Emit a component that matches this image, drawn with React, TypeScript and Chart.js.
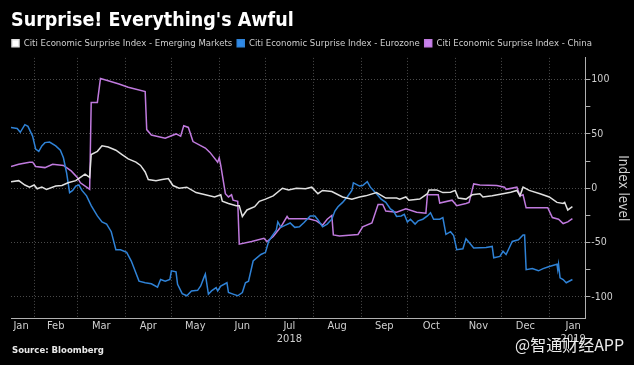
import React, { useEffect, useRef } from 'react';
import { Chart, registerables } from 'chart.js';

Chart.register(...registerables);

// ---------- DATA ----------
const TITLE = "Surprise! Everything's Awful";
const SOURCE = 'Source: Bloomberg';
const WATERMARK = '@智通财经APP';
const AXIS_TITLE = 'Index level';
const SERIES_NAMES = [
  'Citi Economic Surprise Index - Emerging Markets',
  'Citi Economic Surprise Index - Eurozone',
  'Citi Economic Surprise Index - China',
];

// x values are days since 1 Jan 2018
const emDays = [16, 21, 25, 28, 31, 33, 36, 39, 45, 49, 53, 58, 61, 64, 67, 68, 72, 75, 79, 84, 88, 92, 97, 100, 103, 105, 110, 114, 118, 121, 125, 130, 136, 142, 148, 152, 153, 157, 162, 164, 166, 169, 174, 177, 181, 186, 192, 196, 201, 207, 211, 215, 218, 224, 231, 237, 242, 246, 253, 259, 266, 268, 272, 274, 281, 286, 287, 292, 296, 301, 304, 306, 311, 315, 320, 322, 328, 335, 340, 344, 346, 348, 352, 359, 365, 370, 374, 375, 377, 380];
const emValues = [6, 7, 3, 1, 3, -0.5, 1, -1, 2, 2.5, 5, 7, 10, 13, 10, 31, 34, 39, 38, 35, 31, 27, 24, 21, 15, 8, 7, 8, 9, 2.5, 0, 1, -4, -6, -8, -6, -12, -14, -16, -16, -26, -20, -17, -12, -10, -7, 0, -1.5, 0, -0.5, 1, -5, -2, -3, -8, -10, -8, -7, -4, -9, -9, -10, -8, -11, -10, -5, -1.5, -1.5, -4, -3.6, -2, -9, -10, -6, -5, -8, -7, -5, -3.6, -2, -7, 1, -2, -5, -8, -13, -14, -13, -20, -17];

const ezDays = [16, 20, 22, 25, 27, 30, 32, 34, 36, 38, 41, 45, 48, 50, 52, 54, 56, 58, 60, 62, 65, 68, 72, 75, 78, 81, 84, 87, 91, 94, 99, 103, 107, 111, 113, 116, 119, 120, 123, 124, 127, 130, 133, 137, 139, 141, 142, 144, 146, 149, 150, 152, 156, 157, 160, 163, 166, 168, 170, 173, 178, 181, 183, 185, 188, 189, 191, 194, 197, 200, 203, 206, 210, 213, 215, 218, 221, 224, 226, 228, 231, 234, 237, 238, 242, 244, 247, 249, 253, 256, 259, 262, 264, 266, 269, 271, 273, 275, 278, 280, 283, 286, 288, 290, 294, 296, 298, 301, 303, 305, 309, 311, 314, 316, 324, 328, 329, 333, 335, 337, 339, 341, 345, 348, 349, 350, 354, 358, 361, 365, 370, 370.5, 371, 372, 374, 376, 380];
const ezValues = [56, 55, 51.5, 58.5, 57, 48, 36, 34, 39, 42, 42.5, 39, 35, 28, 14.5, -4, -2, 2, 3, -2, -7, -16, -25.5, -31, -33, -40, -56.6, -56.6, -59, -67, -85.5, -87, -88, -91, -84, -85.5, -84, -76, -77, -88.5, -97, -99, -94.5, -94, -90, -82.5, -79, -97.5, -94.5, -91.5, -94.5, -90, -87, -96, -97.5, -99, -96, -87, -85.5, -67, -61, -59, -49, -44.5, -38.5, -31, -36, -34, -32, -36, -35.5, -31.5, -25.5, -25.5, -29, -35.5, -33, -28.5, -21, -17, -13, -8, -2, 5, 2, 2.5, 6, 1, -5, -10, -13, -19, -21, -26, -25.5, -24, -31, -28.5, -33, -30, -28.5, -25.5, -22.5, -28.5, -28.5, -27, -42.5, -40, -43.6, -56.6, -55.7, -46.6, -51.5, -55, -54.5, -53.6, -64, -62.7, -58, -61, -55, -49, -47.5, -43, -43, -75, -74, -76, -74, -72, -70, -75, -70, -82.5, -84, -87, -84];

const cnDays = [16, 21, 28, 30, 32, 38, 43, 50, 55, 59, 61, 65, 67, 68, 72, 74, 79, 86, 92, 103, 104, 107, 116, 123, 126, 128, 131, 134, 142, 145, 150, 151, 152, 155, 157, 159, 160, 163, 164, 172, 180, 182, 186, 191, 195, 196, 209, 214, 218, 221, 224, 225, 229, 241, 244, 250, 254, 257, 259, 266, 272, 279, 285, 286, 293, 294, 302, 305, 311, 313, 316, 320, 331, 336, 337, 344, 346, 348, 350, 364, 367, 371, 374, 377, 380];
const cnValues = [20, 22, 24, 24, 20, 19, 22, 21, 16, 10, 5, 1, -1, 79, 79, 101, 99, 96, 93, 89, 54, 49, 46, 50, 48, 57.5, 56, 43, 37, 33, 24, 28, 21, -5, -8, -6, -11, -12, -51.5, -49, -46, -49, -44.5, -35.5, -26, -28, -28, -30, -34, -28.5, -25, -43, -44, -42.5, -35.5, -32, -15, -15, -21, -22, -19, -22, -23, -6, -6, -13.6, -11, -16, -14, -13, 4, 3, 2.5, 1, -1, 1, -7, -6, -18, -18, -27, -28.5, -32.5, -31, -28];

const X_MIN = 16;
const X_MAX = 388.4;
const Y_MIN = -120;
const Y_MAX = 120;
const monthStartDays = [31, 59, 90, 120, 151, 181, 212, 243, 273, 304, 334, 365];
const monthLabelDays = [22.5, 45, 74.5, 105, 135.5, 166, 196.5, 227.5, 258, 288.5, 319, 349.5, 380.5];
const monthLabels: string[][] = [['Jan'], ['Feb'], ['Mar'], ['Apr'], ['May'], ['Jun'], ['Jul', '2018'], ['Aug'], ['Sep'], ['Oct'], ['Nov'], ['Dec'], ['Jan', '2019']];
const yTickValues = [-100, -75, -50, -25, 0, 25, 50, 75, 100];
const yLabelStep = 50;

// ---------- STYLE ----------
const FONT = "'DejaVu Sans Condensed', 'DejaVu Sans', sans-serif";
const COLORS = ['#e0e0e0', '#2f82d6', '#c07ade'];
const BOX_COLORS = ['#ffffff', '#2f8ae8', '#c882ee'];
const GRID = '#4a4a4a';
const AXIS = '#b0b0b0';
const TEXT = '#cfcfcf';

const toPoints = (xs: number[], ys: number[]) => xs.map((x, i) => ({ x, y: ys[i] }));

const decorPlugin = {
  id: 'decor',
  beforeDraw(chart: any) {
    const { ctx, width, height } = chart;
    ctx.save();
    ctx.fillStyle = '#000';
    ctx.fillRect(0, 0, width, height);
    ctx.restore();
  },
  afterLayout(chart: any) {
    if (chart.legend) chart.legend.left = 7;
  },
  afterDraw(chart: any) {
    const { ctx, height } = chart;
    ctx.save();
    ctx.textBaseline = 'middle';
    ctx.textAlign = 'left';
    ctx.fillStyle = '#e8e8e8';
    ctx.font = `bold 9.5px ${FONT}`;
    ctx.fillText(SOURCE, 12, height - 14);
    ctx.font = `16px 'Noto Sans CJK SC', sans-serif`;
    ctx.fillStyle = 'rgba(255,255,255,0.92)';
    ctx.fillText(WATERMARK, 515, height - 20);
    ctx.restore();
  },
};

export default function App() {
  const ref = useRef<HTMLCanvasElement>(null);
  useEffect(() => {
    document.body.style.margin = '0';
    document.body.style.background = '#000';
    const labelMap = new Map<number, string[]>();
    monthLabelDays.forEach((d, i) => labelMap.set(d, monthLabels[i]));
    const startSet = new Set(monthStartDays);
    const chart = new Chart(ref.current!, {
      type: 'line',
      data: {
        datasets: [
          { label: SERIES_NAMES[0], data: toPoints(emDays, emValues), borderColor: COLORS[0], backgroundColor: BOX_COLORS[0] },
          { label: SERIES_NAMES[1], data: toPoints(ezDays, ezValues), borderColor: COLORS[1], backgroundColor: BOX_COLORS[1] },
          { label: SERIES_NAMES[2], data: toPoints(cnDays, cnValues), borderColor: COLORS[2], backgroundColor: BOX_COLORS[2] },
        ],
      },
      options: {
        animation: false,
        responsive: true,
        maintainAspectRatio: false,
        layout: { padding: { left: 11, right: 0, top: 4, bottom: 18 } },
        elements: {
          point: { radius: 0 },
          line: { borderWidth: 1.5, tension: 0 },
        },
        plugins: {
          tooltip: { enabled: false },
          title: {
            display: true,
            text: TITLE,
            align: 'start',
            color: '#ffffff',
            font: { family: FONT, size: 19.5, weight: 'bold' },
            padding: { top: 5, bottom: 1 },
          },
          legend: {
            display: true,
            position: 'top',
            align: 'start',
            labels: {
              color: TEXT,
              font: { family: FONT, size: 9.5 },
              boxWidth: 7,
              boxHeight: 7,
              padding: 5,
            },
          },
        },
        scales: {
          x: {
            type: 'linear',
            min: X_MIN,
            max: X_MAX,
            afterBuildTicks: (scale: any) => {
              const vals = [...monthStartDays, ...monthLabelDays].sort((a, b) => a - b);
              scale.ticks = vals.map((v) => ({ value: v }));
            },
            ticks: {
              autoSkip: false,
              maxRotation: 0,
              minRotation: 0,
              padding: 1,
              color: TEXT,
              font: { family: FONT, size: 11 },
              callback: (v: any) => labelMap.get(Number(v)) || '',
            },
            grid: {
              drawTicks: false,
              color: (ctx: any) => (ctx.tick && startSet.has(ctx.tick.value) ? GRID : 'transparent'),
              lineWidth: 1,
            },
            border: { display: true, color: AXIS, width: 1, dash: [1, 2] },
          },
          y: {
            type: 'linear',
            position: 'right',
            min: Y_MIN,
            max: Y_MAX,
            afterBuildTicks: (scale: any) => {
              scale.ticks = yTickValues.map((v) => ({ value: v }));
            },
            ticks: {
              color: TEXT,
              padding: 1,
              font: { family: FONT, size: 10.5 },
              callback: (v: any) => (Number(v) % yLabelStep === 0 ? String(v) : ''),
            },
            grid: {
              tickLength: 5,
              color: (ctx: any) => (ctx.tick && ctx.tick.value % yLabelStep === 0 ? GRID : 'transparent'),
              tickColor: AXIS,
              tickBorderDash: [],
            },
            border: { display: true, color: AXIS, width: 1, dash: [1, 2] },
            title: {
              display: true,
              text: AXIS_TITLE,
              color: TEXT,
              font: { family: FONT, size: 13.5 },
              padding: { top: 3, bottom: 1 },
            },
          },
        },
      },
      plugins: [decorPlugin],
    } as any);
    return () => chart.destroy();
  }, []);
  return (
    <div style={{ width: 634, height: 365, position: 'relative', background: '#000' }}>
      <canvas ref={ref} />
    </div>
  );
}
